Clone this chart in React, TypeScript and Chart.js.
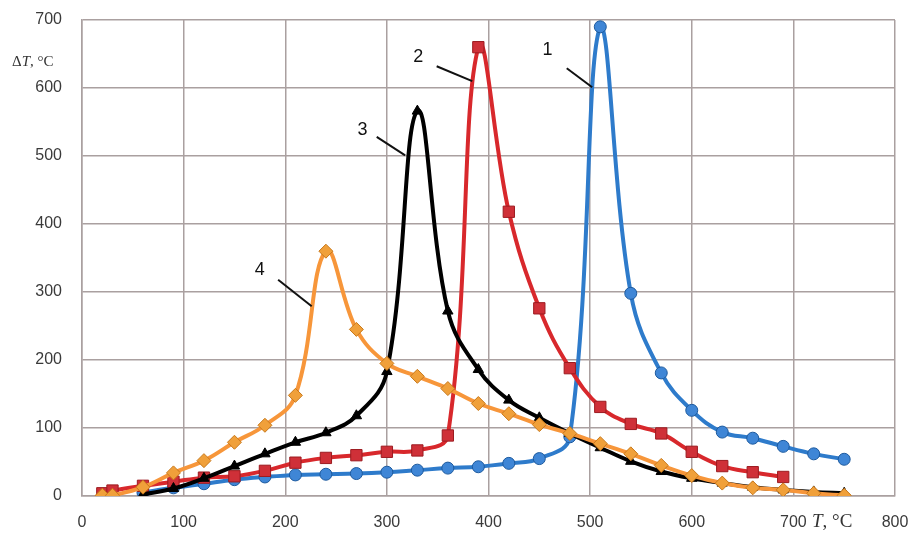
import React, { useEffect, useRef } from "react";
import { Chart, registerables } from "chart.js";

Chart.register(...registerables);

// Series 1 (blue, circles)
const x1 = [60, 90, 120, 150, 180, 210, 240, 270, 300, 330, 360, 390, 420, 450, 480, 510, 540, 570, 600, 630, 660, 690, 720, 750];
const y1 = [5, 12, 18, 24, 28, 31, 32, 33, 35, 38, 41, 43, 48, 55, 87, 690, 298, 181, 126, 94, 85, 73, 62, 54];
// Series 2 (red, squares)
const x2 = [20, 30, 60, 90, 120, 150, 180, 210, 240, 270, 300, 330, 360, 390, 420, 450, 480, 510, 540, 570, 600, 630, 660, 690];
const y2 = [4, 8, 15, 21, 27, 29, 37, 49, 56, 60, 65, 67, 89, 660, 418, 276, 188, 131, 106, 92, 65, 44, 35, 28];
// Series 3 (black, triangles)
const x3 = [60, 90, 120, 150, 180, 210, 240, 270, 300, 330, 360, 390, 420, 450, 480, 510, 540, 570, 600, 630, 660, 690, 720, 750];
const y3 = [2, 11, 26, 44, 62, 79, 93, 118, 183, 566, 272, 186, 141, 115, 92, 71, 51, 36, 26, 19, 13, 9, 6, 4];
// Series 4 (orange, diamonds)
const x4 = [20, 30, 60, 90, 120, 150, 180, 210, 240, 270, 300, 330, 360, 390, 420, 450, 480, 510, 540, 570, 600, 630, 660, 690, 720, 750];
const y4 = [1, 1, 13, 34, 52, 79, 104, 148, 360, 245, 195, 176, 158, 136, 121, 105, 92, 77, 62, 45, 30, 19, 12, 9, 4, 1];

// Curve labels: text position and leader line (data coordinates)
const curveLabels = ["1", "2", "3", "4"];
const labelX = [458, 331, 276, 175];
const labelY = [656, 646, 538, 332];
const leaderX0 = [477, 349, 290, 193];
const leaderY0 = [629, 632, 528, 318];
const leaderX1 = [502, 384, 318, 226];
const leaderY1 = [601, 610, 501, 279];

const xTicks = [0, 100, 200, 300, 400, 500, 600, 700, 800];
const yTicks = [0, 100, 200, 300, 400, 500, 600, 700];

const pts = (xs: number[], ys: number[]) => xs.map((x, i) => ({ x, y: ys[i] }));

const GRID = "#aaa0a0";

const annotPlugin = {
  id: "annot",
  afterDatasetsDraw(chart: any) {
    const { ctx, scales } = chart;
    const xs = scales.x, ys = scales.y;
    ctx.save();
    ctx.strokeStyle = "#111";
    ctx.lineWidth = 2;
    ctx.fillStyle = "#111";
    ctx.font = "18px 'Liberation Sans', Arial, sans-serif";
    ctx.textAlign = "center";
    ctx.textBaseline = "middle";
    curveLabels.forEach((t, i) => {
      ctx.fillText(t, xs.getPixelForValue(labelX[i]), ys.getPixelForValue(labelY[i]));
      ctx.beginPath();
      ctx.moveTo(xs.getPixelForValue(leaderX0[i]), ys.getPixelForValue(leaderY0[i]));
      ctx.lineTo(xs.getPixelForValue(leaderX1[i]), ys.getPixelForValue(leaderY1[i]));
      ctx.stroke();
    });
    // axis titles
    ctx.fillStyle = "#333";
    ctx.textBaseline = "middle";
    ctx.textAlign = "left";
    // Y title
    let px = 12, py = 62;
    ctx.font = "15px 'Liberation Serif', serif";
    ctx.fillText("Δ", px, py);
    px += ctx.measureText("Δ").width;
    ctx.font = "italic 15px 'Liberation Serif', serif";
    ctx.fillText("T", px, py);
    px += ctx.measureText("T").width;
    ctx.font = "15px 'Liberation Serif', serif";
    ctx.fillText(", °C", px, py);
    // X title
    px = 812; py = 522;
    ctx.font = "italic 19px 'Liberation Serif', serif";
    ctx.fillText("T", px, py);
    px += ctx.measureText("T").width;
    ctx.font = "19px 'Liberation Serif', serif";
    ctx.fillText(", °C", px, py);
    ctx.restore();
  },
};

const noPad = (s: any) => {
  s.paddingLeft = 0;
  s.paddingRight = 0;
  s.paddingTop = 0;
  s.paddingBottom = 0;
};

export default function App() {
  const ref = useRef<HTMLCanvasElement | null>(null);
  useEffect(() => {
    if (!ref.current) return;
    const mk = (label: string, data: any, color: string, fill: string, border: string, style: string, radius: number, order: number) => ({
      label,
      data,
      borderColor: color,
      borderWidth: 4,
      tension: 0.4,
      pointStyle: style,
      pointRadius: radius,
      pointBackgroundColor: fill,
      pointBorderColor: border,
      pointBorderWidth: 1,
      order,
    });
    const chart = new Chart(ref.current, {
      type: "line",
      data: {
        datasets: [
          mk("1", pts(x1, y1), "#2e7bcb", "#3f86d6", "#1d5a9e", "circle", 6, 4),
          mk("2", pts(x2, y2), "#d8282c", "#cf3038", "#9c1b20", "rect", 8, 3),
          mk("3", pts(x3, y3), "#000000", "#000000", "#000000", "triangle", 6, 2),
          mk("4", pts(x4, y4), "#f7963a", "#f0a03a", "#c8781a", "rectRot", 7, 1),
        ] as any,
      },
      options: {
        animation: false,
        responsive: false,
        maintainAspectRatio: false,
        layout: { padding: { top: 20, right: 16, left: 0, bottom: 0 } },
        plugins: { legend: { display: false }, tooltip: { enabled: false } },
        scales: {
          x: {
            type: "linear",
            min: 0,
            max: 800,
            afterBuildTicks: (s: any) => { s.ticks = xTicks.map((v) => ({ value: v })); },
            afterFit: (s: any) => { s.height = 39; noPad(s); },
            grid: { color: GRID, lineWidth: 1.5, drawTicks: false },
            border: { color: GRID, width: 1.5 },
            ticks: {
              padding: 17,
              color: "#3a3a3a",
              font: { family: "'Liberation Sans Narrow', 'Liberation Sans', Arial", size: 16 },
              callback: (v: any) => String(v),
            },
          },
          y: {
            type: "linear",
            min: 0,
            max: 700,
            afterBuildTicks: (s: any) => { s.ticks = yTicks.map((v) => ({ value: v })); },
            afterFit: (s: any) => { s.width = 82; noPad(s); },
            grid: { color: GRID, lineWidth: 1.5, drawTicks: false },
            border: { color: GRID, width: 1.5 },
            ticks: {
              padding: 20,
              color: "#3a3a3a",
              font: { family: "'Liberation Sans Narrow', 'Liberation Sans', Arial", size: 16 },
              callback: (v: any) => String(v),
            },
          },
        },
      },
      plugins: [annotPlugin],
    });
    return () => chart.destroy();
  }, []);
  return (
    <div style={{ position: "fixed", left: 0, top: 0, width: 911, height: 535, background: "#fff" }}>
      <canvas ref={ref} width={911} height={535} style={{ width: 911, height: 535 }} />
    </div>
  );
}
